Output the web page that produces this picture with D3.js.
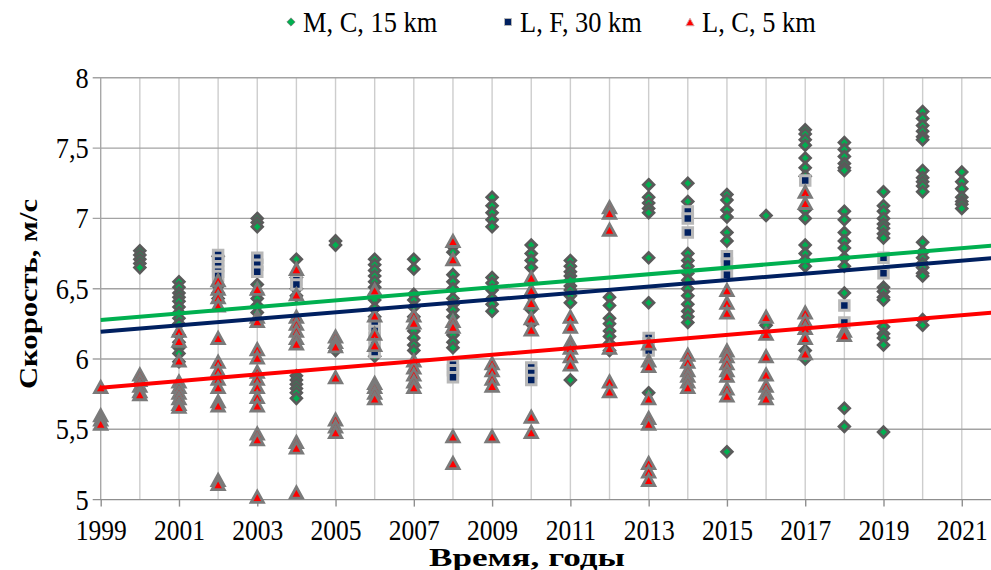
<!DOCTYPE html>
<html>
<head>
<meta charset="utf-8">
<script src="https://cdn.jsdelivr.net/npm/d3@7"></script>
<style>
  body { margin: 0; background: #fff; }
  svg { display: block; }
  text { font-family: "Liberation Serif", "Times New Roman", serif; fill: #000; }
</style>
</head>
<body>
<svg id="chart" width="991" height="570"></svg>
<script>
// Years on the horizontal axis
const years = d3.range(1999, 2022);
const seriesNames = ["M, C, 15 km", "L, F, 30 km", "L, C, 5 km"];

// Wind speed samples (m/s), one list per year from 1999 to 2021
const mc15 = [
  [],
  [6.77, 6.74, 6.71, 6.68, 6.65],
  [6.55, 6.51, 6.47, 6.44, 6.41, 6.37, 6.33, 6.29, 6.25, 6.17, 6.12, 6.08, 6.04, 5.98],
  [6.73, 6.52, 6.47, 6.43],
  [7.0, 6.97, 6.94, 6.53, 6.47, 6.43, 6.38, 6.33],
  [6.71, 6.58, 6.5, 6.45, 5.88, 5.85, 5.82, 5.79, 5.76, 5.72],
  [6.84, 6.81, 6.06],
  [6.71, 6.67, 6.63, 6.59, 6.55, 6.51, 6.46, 6.42, 6.36, 6.3, 6.02],
  [6.71, 6.64, 6.46, 6.42, 6.37, 6.3, 6.2, 6.15, 6.1, 6.06],
  [6.8, 6.76, 6.6, 6.55, 6.5, 6.43, 6.39, 6.35, 6.3, 6.17, 6.12, 6.08],
  [7.15, 7.09, 7.04, 6.99, 6.94, 6.58, 6.54, 6.49, 6.43, 6.39, 6.34],
  [6.81, 6.75, 6.7, 6.65, 6.45, 6.35, 6.25],
  [6.7, 6.66, 6.62, 6.59, 6.56, 6.52, 6.49, 6.45, 6.4, 5.85],
  [6.44, 6.38, 6.29, 6.25, 6.2, 6.16, 6.11, 6.06],
  [7.24, 7.15, 7.11, 7.07, 7.04, 6.72, 6.4, 5.76],
  [7.25, 7.12, 6.75, 6.7, 6.66, 6.61, 6.56, 6.5, 6.45, 6.39, 6.34, 6.3, 6.26],
  [7.17, 7.13, 7.06, 7.01, 6.9, 6.84, 5.34],
  [7.02, 6.24],
  [7.63, 7.6, 7.56, 7.52, 7.43, 7.36, 7.3, 7.06, 7.0, 6.81, 6.75, 6.7, 6.66, 6.06, 6.0],
  [7.54, 7.49, 7.44, 7.39, 7.36, 7.34, 7.05, 6.99, 6.9, 6.84, 6.79, 6.72, 6.66, 6.47, 5.65, 5.52],
  [7.19, 7.09, 7.05, 7.0, 6.96, 6.93, 6.89, 6.86, 6.51, 6.48, 6.44, 6.42, 6.23, 6.18, 6.15, 6.1, 5.48],
  [7.76, 7.71, 7.66, 7.62, 7.58, 7.56, 7.34, 7.29, 7.26, 7.23, 7.19, 6.83, 6.76, 6.72, 6.68, 6.65, 6.61, 6.59, 6.28, 6.24],
  [7.33, 7.26, 7.21, 7.15, 7.12, 7.1, 7.07]
];

const lf30 = [
  [], [], [],
  [6.74, 6.7, 6.66, 6.62, 6.59],
  [6.72, 6.67, 6.62],
  [6.56, 6.53],
  [],
  [6.25, 6.2, 6.15, 6.1, 6.05],
  [],
  [5.96, 5.92, 5.87],
  [],
  [5.94, 5.9, 5.85],
  [], [],
  [6.15, 6.11, 6.06],
  [7.05, 7.0, 6.9],
  [6.73, 6.68, 6.6],
  [],
  [7.27],
  [6.38, 6.26],
  [6.72, 6.61],
  [], []
];

const lc5 = [
  [5.8, 5.6, 5.57, 5.54],
  [5.89, 5.85, 5.81, 5.77, 5.75],
  [6.2, 6.13, 5.99, 5.84, 5.8, 5.76, 5.72, 5.68, 5.66],
  [6.56, 6.5, 6.44, 6.38, 6.15, 5.98, 5.92, 5.86, 5.8, 5.7, 5.67, 5.14, 5.11],
  [6.5, 6.3, 6.27, 6.07, 6.01, 5.91, 5.86, 5.8, 5.73, 5.67, 5.47, 5.43, 5.02],
  [6.64, 6.46, 6.3, 6.25, 6.2, 6.15, 6.11, 5.41, 5.37, 5.05],
  [6.16, 6.12, 6.09, 5.87, 5.57, 5.52, 5.48],
  [6.49, 6.31, 6.18, 6.1, 5.83, 5.8, 5.76, 5.72],
  [6.31, 6.26, 5.99, 5.94, 5.89, 5.84, 5.8],
  [6.84, 6.71, 6.27, 6.23, 5.45, 5.26],
  [5.97, 5.92, 5.86, 5.81, 5.45],
  [6.58, 6.49, 6.4, 6.29, 6.21, 5.59, 5.48],
  [6.3, 6.23, 6.12, 6.08, 6.02, 5.96],
  [7.08, 7.04, 6.92, 6.08, 5.84, 5.77],
  [6.11, 5.99, 5.95, 5.72, 5.58, 5.54, 5.26, 5.2, 5.14],
  [6.03, 5.98, 5.92, 5.88, 5.84, 5.8],
  [6.49, 6.4, 6.33, 6.06, 6.02, 5.97, 5.92, 5.88, 5.79, 5.74],
  [6.3, 6.18, 6.02, 5.89, 5.81, 5.76, 5.72],
  [7.19, 7.11, 6.33, 6.27, 6.22, 6.15, 6.04],
  [6.2, 6.17],
  [], [], []
];

// Linear trend values at the start (1999) and end (2022) of the axis
const trendStart = [6.277, 6.194, 5.796];
const trendEnd = [6.812, 6.722, 6.335];

const yTicks = [5, 5.5, 6, 6.5, 7, 7.5, 8];
const xTickYears = years.filter(y => y % 2 === 1);

const colors = ["#00b050", "#002060", "#ff0000"];
const borders = ["#5a5a5a", "#b8b8b8", "#7a7a7a"];

const svg = d3.select("#chart");

const x = d3.scaleLinear().domain([1999, 2022]).range([100.7, 100.7 + 23 * 39.14]);
const y = d3.scaleLinear().domain([5, 8]).range([499.6, 77.8]);

// Narrow the serif glyphs a little, like a condensed Times face
function condense(sel, k) {
  sel.each(function () {
    const w = this.getComputedTextLength();
    d3.select(this).attr("textLength", w * k).attr("lengthAdjust", "spacingAndGlyphs");
  });
}

// Excel-like marker shapes
const diamond = { draw(ctx, size) { const r = Math.sqrt(size / 2); ctx.moveTo(0, -r); ctx.lineTo(r, 0); ctx.lineTo(0, r); ctx.lineTo(-r, 0); ctx.closePath(); } };
const square = { draw(ctx, size) { const h = Math.sqrt(size) / 2; ctx.rect(-h, -h, 2 * h, 2 * h); } };
const triangle = { draw(ctx, size) { const h = Math.sqrt(size) / 2; ctx.moveTo(0, -h); ctx.lineTo(h * 1.1, h); ctx.lineTo(-h * 1.1, h); ctx.closePath(); } };
const shapes = [diamond, square, triangle];
const sizes = [56, 90, 125];

// Vertical grid lines (every year)
svg.append("g").selectAll("line").data(years.concat([2022])).join("line")
  .attr("x1", d => x(d)).attr("x2", d => x(d))
  .attr("y1", y(8)).attr("y2", y(5))
  .attr("stroke", d => d === 1999 ? "#a8a8a8" : "#cdcdcd")
  .attr("stroke-width", 1.4);

// Horizontal grid lines with outward ticks
svg.append("g").selectAll("line").data(yTicks).join("line")
  .attr("x1", x(1999) - 8).attr("x2", 991)
  .attr("y1", d => y(d)).attr("y2", d => y(d))
  .attr("stroke", d => d === 5 ? "#8f8f8f" : "#a3a3a3")
  .attr("stroke-width", 1.4);

// Y tick labels
svg.append("g").selectAll("text").data(yTicks).join("text")
  .attr("x", x(1999) - 12).attr("y", d => y(d) + 10)
  .attr("text-anchor", "end")
  .attr("font-size", 30)
  .text(d => String(d).replace(".", ","))
  .call(condense, 0.88);

// X axis ticks and labels
const xAxis = d3.axisBottom(x).tickValues(xTickYears).tickSize(7).tickFormat(d3.format("d"));
const gx = svg.append("g").attr("transform", `translate(0,${y(5)})`).call(xAxis);
gx.select(".domain").remove();
gx.selectAll(".tick line").attr("stroke", "#8f8f8f").attr("stroke-width", 1.4);
gx.selectAll(".tick text")
  .attr("font-size", 29).attr("font-family", "Liberation Serif, serif").attr("fill", "#000")
  .attr("y", 40).attr("dy", 0)
  .call(condense, 0.88);

// Scatter markers, series drawn in legend order
[mc15, lf30, lc5].forEach((series, i) => {
  const pts = [];
  series.forEach((vals, k) => vals.forEach(v => pts.push({ year: years[k], v })));
  svg.append("g").selectAll("path").data(pts).join("path")
    .attr("transform", d => `translate(${x(d.year)},${y(d.v)})`)
    .attr("d", d3.symbol(shapes[i], sizes[i]))
    .attr("fill", colors[i])
    .attr("stroke", borders[i])
    .attr("stroke-width", [2.8, 3, 2.8][i])
    .attr("stroke-linejoin", "miter");
});

// Trend lines
svg.append("g").selectAll("line").data([0, 1, 2]).join("line")
  .attr("x1", x(1999)).attr("y1", i => y(trendStart[i]))
  .attr("x2", x(2022)).attr("y2", i => y(trendEnd[i]))
  .attr("stroke", i => colors[i])
  .attr("stroke-width", 4);

// Legend
const legendX = [291, 508, 690];
const legend = svg.append("g").selectAll("g").data([0, 1, 2]).join("g")
  .attr("transform", i => `translate(${legendX[i]},22)`);
legend.append("path")
  .attr("d", i => d3.symbol(shapes[i], [34, 49, 56][i])())
  .attr("fill", i => colors[i])
  .attr("stroke", i => ["#6e8f7a", "#b4b4b4", "#d8a0a0"][i])
  .attr("stroke-width", 1);
legend.append("text")
  .attr("x", 12).attr("y", 10)
  .attr("font-size", 30)
  .text(i => seriesNames[i])
  .call(condense, 0.88);

// Axis titles
svg.append("text")
  .attr("x", 527).attr("y", 566)
  .attr("text-anchor", "middle")
  .attr("font-size", 25).attr("font-weight", "bold")
  .attr("textLength", 196).attr("lengthAdjust", "spacingAndGlyphs")
  .text("Время, годы");
svg.append("text")
  .attr("transform", "translate(37,294) rotate(-90)")
  .attr("text-anchor", "middle")
  .attr("font-size", 26).attr("font-weight", "bold")
  .attr("textLength", 190).attr("lengthAdjust", "spacingAndGlyphs")
  .text("Скорость, м/с");
</script>
</body>
</html>
